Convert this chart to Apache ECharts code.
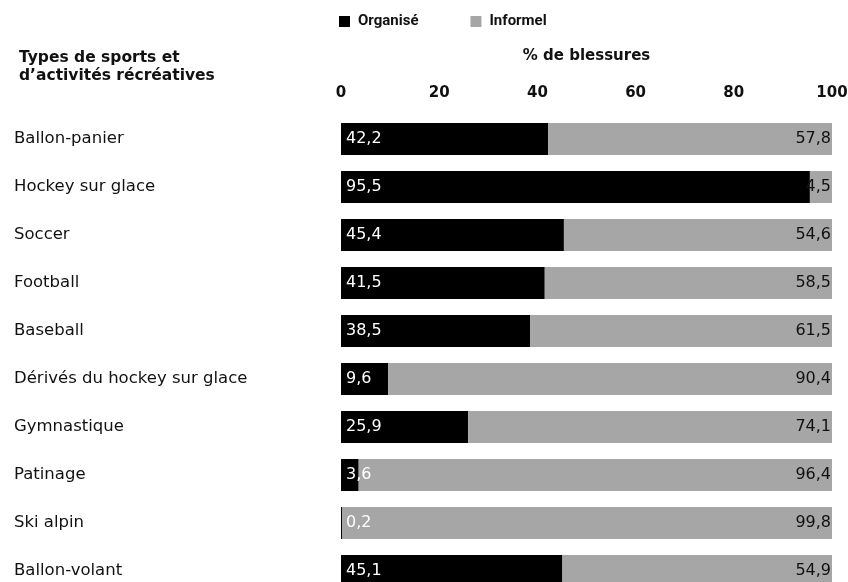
<!DOCTYPE html>
<html>
<head>
<meta charset="utf-8">
<script src="https://cdn.jsdelivr.net/npm/echarts@6/dist/echarts.min.js"></script>
<style>
  html, body { margin: 0; padding: 0; background: #fff; }
  #main { width: 848px; height: 582px; }
</style>
</head>
<body>
<div id="main"></div>
<script>
var categories = ['Ballon-panier', 'Hockey sur glace', 'Soccer', 'Football', 'Baseball',
    'Dérivés du hockey sur glace', 'Gymnastique', 'Patinage', 'Ski alpin', 'Ballon-volant'];
var organise = [42.2, 95.5, 45.4, 41.5, 38.5, 9.6, 25.9, 3.6, 0.2, 45.1];
var informel = [57.8, 4.5, 54.6, 58.5, 61.5, 90.4, 74.1, 96.4, 99.8, 54.9];
var xTicks = [0, 20, 40, 60, 80, 100];

var font = 'DejaVu Sans';
var fmt = function (p) { return String(p.value).replace('.', ','); };

var chart = echarts.init(document.getElementById('main'));

chart.setOption({
    animation: false,
    title: {
        text: 'Types de sports et\nd\u2019activités récréatives',
        left: 14,
        top: 44,
        textStyle: { fontFamily: font, fontSize: 15.5, fontWeight: 'bold', color: '#111', lineHeight: 18 }
    },
    legend: {
        left: 334,
        top: 9,
        itemWidth: 11,
        itemHeight: 11,
        itemGap: 52,
        icon: 'rect',
        textStyle: { fontFamily: 'Roboto', fontSize: 15, fontWeight: 'bold', color: '#111', padding: [0, 0, 0, 3] },
        data: ['Organisé', 'Informel']
    },
    grid: { left: 341, right: 16, top: 115, height: 480, outerBoundsMode: 'none', containLabel: false },
    xAxis: {
        type: 'value',
        position: 'top',
        min: 0,
        max: 100,
        interval: 20,
        name: '% de blessures',
        nameLocation: 'middle',
        nameGap: 51,
        nameTextStyle: { fontFamily: font, fontSize: 15, fontWeight: 'bold', color: '#111' },
        axisLine: { show: false },
        axisTick: { show: false },
        splitLine: { show: false },
        axisLabel: {
            margin: 14,
            fontFamily: font, fontSize: 15, fontWeight: 'bold', color: '#111',
            formatter: function (v) { return xTicks.indexOf(v) >= 0 ? v : ''; }
        }
    },
    yAxis: {
        type: 'category',
        inverse: true,
        data: categories,
        axisLine: { show: false },
        axisTick: { show: false },
        axisLabel: {
            align: 'left',
            margin: 327,
            fontFamily: font, fontSize: 16.5, color: '#111'
        }
    },
    series: [{
        name: 'Organisé',
        type: 'bar',
        stack: 'total',
        barWidth: 32,
        itemStyle: { color: '#000' },
        label: {
            show: true,
            position: 'insideLeft',
            distance: 5,
            fontFamily: font, fontSize: 16, color: '#fff',
            formatter: fmt
        },
        data: organise
    }, {
        name: 'Informel',
        type: 'bar',
        stack: 'total',
        barWidth: 32,
        itemStyle: { color: '#a6a6a6' },
        label: {
            show: true,
            position: 'insideRight',
            distance: 1,
            fontFamily: font, fontSize: 16, color: '#111',
            formatter: fmt
        },
        data: informel
    }]
});
</script>
</body>
</html>
